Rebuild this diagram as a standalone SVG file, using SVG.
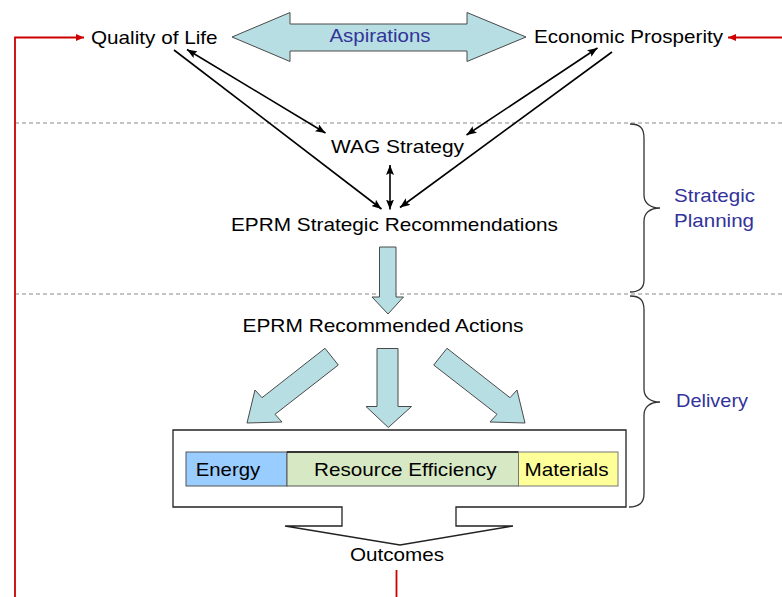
<svg xmlns="http://www.w3.org/2000/svg" width="782" height="597" viewBox="0 0 782 597">
  <style>
    .lbl { font-family: "Liberation Sans", Arial, sans-serif; font-size: 19px; fill: #000; }
    .blue { fill: #333399; }
    .block { fill: #b7dee2; stroke: #4a4a4a; stroke-width: 1; stroke-linejoin: miter; }
    .link { fill: none; stroke: #000; stroke-width: 1.6; }
    .feedback { fill: none; stroke: #cc0000; stroke-width: 1.8; }
    .divider { fill: none; stroke: #8a8a8a; stroke-width: 1; stroke-dasharray: 4 3; }
    .brace { fill: none; stroke: #333; stroke-width: 1.3; }
  </style>
  <defs>
    <marker id="headEnd" viewBox="0 0 10 8" refX="10" refY="4" markerWidth="10" markerHeight="8" markerUnits="userSpaceOnUse" orient="auto">
      <path d="M0,0 L10,4 L0,8 L2,4 z" fill="#000"/>
    </marker>
    <marker id="headStart" viewBox="0 0 10 8" refX="0" refY="4" markerWidth="10" markerHeight="8" markerUnits="userSpaceOnUse" orient="auto">
      <path d="M10,0 L0,4 L10,8 L8,4 z" fill="#000"/>
    </marker>
    <marker id="redHead" viewBox="0 0 8 7" refX="8" refY="3.5" markerWidth="8" markerHeight="7" markerUnits="userSpaceOnUse" orient="auto">
      <path d="M0,0 L8,3.5 L0,7 z" fill="#cc0000"/>
    </marker>
  </defs>

  <!-- section dividers -->
  <g id="dividers">
    <line class="divider" x1="15" y1="123" x2="782" y2="123"/>
    <line class="divider" x1="15" y1="294" x2="782" y2="294"/>
  </g>

  <!-- section braces and labels -->
  <g id="strategic-planning">
    <path class="brace" d="M630,124 C640,124 644,128 644,138 V195 C644,203 650,208 660,208 C650,208 644,213 644,221 V280 C644,288 640,292 630,292"/>
    <text class="lbl blue" x="674" y="202" textLength="81" lengthAdjust="spacingAndGlyphs">Strategic</text>
    <text class="lbl blue" x="674" y="227" textLength="80" lengthAdjust="spacingAndGlyphs">Planning</text>
  </g>
  <g id="delivery">
    <path class="brace" d="M630,296 C640,296 644,300 644,310 V389 C644,397 650,402 660,402 C650,402 644,407 644,415 V494 C644,502 640,507 629,507"/>
    <text class="lbl blue" x="676" y="407" textLength="72" lengthAdjust="spacingAndGlyphs">Delivery</text>
  </g>

  <!-- nodes -->
  <g id="quality-of-life">
    <text class="lbl" x="91" y="44" textLength="126.5" lengthAdjust="spacingAndGlyphs">Quality of Life</text>
  </g>
  <g id="aspirations">
    <polygon class="block" points="232,37 290,12.5 290,24 467,24 467,12.5 526,37 467,61.5 467,51 290,51 290,61.5"/>
    <text class="lbl blue" x="329.5" y="42" textLength="101" lengthAdjust="spacingAndGlyphs">Aspirations</text>
  </g>
  <g id="economic-prosperity">
    <text class="lbl" x="534" y="42.5" textLength="189" lengthAdjust="spacingAndGlyphs">Economic Prosperity</text>
  </g>
  <g id="wag-strategy">
    <text class="lbl" x="331" y="152.5" textLength="133" lengthAdjust="spacingAndGlyphs">WAG Strategy</text>
  </g>
  <g id="eprm-strategic">
    <text class="lbl" x="231" y="230.5" textLength="327" lengthAdjust="spacingAndGlyphs">EPRM Strategic Recommendations</text>
  </g>
  <g id="eprm-actions">
    <text class="lbl" x="242.5" y="332" textLength="281" lengthAdjust="spacingAndGlyphs">EPRM Recommended Actions</text>
  </g>
  <g id="themes">
    <path d="M173,430 H626 V507 H456 V526 H513 L400,545 L285,526 H342 V507 H173 Z" fill="#fff" stroke="#222" stroke-width="1.3"/>
    <g id="energy">
      <rect x="186" y="452" width="101" height="34" fill="#99ccff" stroke="#555" stroke-width="1"/>
      <text class="lbl" x="195.7" y="476" textLength="64.5" lengthAdjust="spacingAndGlyphs">Energy</text>
    </g>
    <g id="resource-efficiency">
      <rect x="287" y="452" width="231.5" height="34" fill="#d7e9c4" stroke="#555" stroke-width="1"/>
      <line x1="287" y1="452" x2="518.5" y2="452" stroke="#111" stroke-width="1.3"/>
      <text class="lbl" x="314" y="476" textLength="182.5" lengthAdjust="spacingAndGlyphs">Resource Efficiency</text>
    </g>
    <g id="materials">
      <rect x="518.5" y="452" width="99.5" height="34" fill="#ffff99" stroke="#777" stroke-width="1"/>
      <text class="lbl" x="524.5" y="476" textLength="84" lengthAdjust="spacingAndGlyphs">Materials</text>
    </g>
  </g>
  <g id="outcomes">
    <text class="lbl" x="350" y="560.5" textLength="94" lengthAdjust="spacingAndGlyphs">Outcomes</text>
  </g>

  <!-- connectors -->
  <g id="connectors">
    <line class="link" x1="174" y1="50" x2="381.5" y2="209" marker-end="url(#headEnd)"/>
    <line class="link" x1="187" y1="49.5" x2="325.5" y2="133" marker-start="url(#headStart)" marker-end="url(#headEnd)"/>
    <line class="link" x1="597.5" y1="48" x2="466.5" y2="135" marker-start="url(#headStart)" marker-end="url(#headEnd)"/>
    <line class="link" x1="612" y1="52" x2="400" y2="207.5" marker-end="url(#headEnd)"/>
    <line class="link" x1="390" y1="165" x2="390" y2="209.5" marker-start="url(#headStart)" marker-end="url(#headEnd)"/>

    <!-- block arrows -->
    <polygon class="block" points="379.5,247 396,247 396,297 403.5,297 388,314 372,297 379.5,297"/>
    <polygon class="block" points="377,348.5 398,348.5 398,406.5 411.5,406.5 388.3,427.5 366,406.5 377,406.5"/>
    <polygon class="block" points="325,348.3 338.3,365 275,414.3 282,422 247,423 255,390 262,397.7"/>
    <polygon class="block" transform="translate(772,0) scale(-1,1)" points="325,348.3 338.3,365 275,414.3 282,422 247,423 255,390 262,397.7"/>

    <!-- feedback loops -->
    <polyline class="feedback" points="15,597 15,37.5 84,37.5" marker-end="url(#redHead)"/>
    <line class="feedback" x1="782" y1="37.5" x2="728" y2="37.5" marker-end="url(#redHead)"/>
    <line class="feedback" x1="396.5" y1="570" x2="396.5" y2="597"/>
  </g>
</svg>
